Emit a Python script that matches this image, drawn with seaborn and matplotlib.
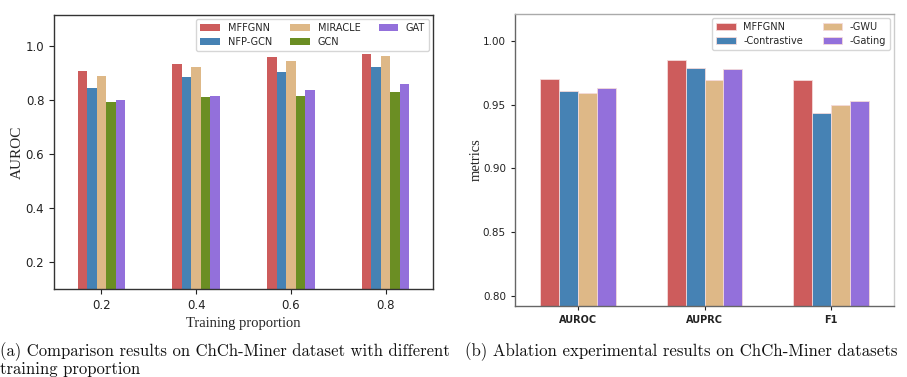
import matplotlib
matplotlib.use("Agg")
import matplotlib.pyplot as plt
import seaborn as sns
import pandas as pd

# ---- data (a) ----
proportions = ["0.2", "0.4", "0.6", "0.8"]
methods_a = ["MFFGNN", "NFP-GCN", "MIRACLE", "GCN", "GAT"]
mffgnn_a = [0.907, 0.933, 0.959, 0.970]
nfpgcn_a = [0.844, 0.885, 0.904, 0.922]
miracle_a = [0.889, 0.922, 0.944, 0.963]
gcn_a = [0.792, 0.811, 0.815, 0.829]
gat_a = [0.800, 0.815, 0.837, 0.859]

# ---- data (b) ----
metrics_b = ["AUROC", "AUPRC", "F1"]
variants_b = ["MFFGNN", "-Contrastive", "-GWU", "-Gating"]
mffgnn_b = [0.970, 0.9846, 0.9695]
contrastive_b = [0.961, 0.9786, 0.9436]
gwu_b = [0.959, 0.969, 0.9496]
gating_b = [0.963, 0.978, 0.9527]

colors_a = ["#CD5C5C", "#4682B4", "#DEB887", "#6B8E23", "#9370DB"]
colors_b = ["#CD5C5C", "#4682B4", "#DEB887", "#9370DB"]

rows = []
for m, vals in zip(methods_a, [mffgnn_a, nfpgcn_a, miracle_a, gcn_a, gat_a]):
    for p, v in zip(proportions, vals):
        rows.append({"prop": p, "method": m, "value": v})
df_a = pd.DataFrame(rows)

rows = []
for m, vals in zip(variants_b, [mffgnn_b, contrastive_b, gwu_b, gating_b]):
    for k, v in zip(metrics_b, vals):
        rows.append({"metric": k, "variant": m, "value": v})
df_b = pd.DataFrame(rows)

sns.set_theme(style="white")
plt.rcParams["font.family"] = ["DejaVu Sans"]

fig = plt.figure(figsize=(9.07, 3.77), dpi=100)
W, H = 907, 377
ax1 = fig.add_axes([54 / W, 1 - 289 / H, 379 / W, 274 / H])
ax2 = fig.add_axes([515 / W, 1 - 306 / H, 379 / W, 292 / H])

# ---- panel (a) ----
sns.barplot(data=df_a, x="prop", y="value", hue="method", order=proportions,
            hue_order=methods_a, palette=colors_a, width=0.5, ax=ax1,
            saturation=1, linewidth=0, errorbar=None)
ax1.set_ylim(0.1, 1.115)
ax1.set_yticks([0.2, 0.4, 0.6, 0.8, 1.0])
ax1.set_yticklabels(["0.2", "0.4", "0.6", "0.8", "1.0"])
ax1.tick_params(axis="both", labelsize=8.5, colors="#222222", length=3.5, width=0.8,
                left=True, bottom=True, direction="out")
ax1.set_xlabel("Training proportion", family="Liberation Serif", fontsize=10.5, labelpad=4)
ax1.set_ylabel("AUROC", family="Liberation Serif", fontsize=11, labelpad=1)
for s in ax1.spines.values():
    s.set_color("#333333")
    s.set_linewidth(1.0)
ax1.legend(ncol=3, loc="upper right", fontsize=7, frameon=True, fancybox=True,
           edgecolor="#cccccc", handlelength=2.0, columnspacing=1.9,
           borderaxespad=0.4, labelspacing=0.45)

# ---- panel (b) ----
sns.barplot(data=df_b, x="metric", y="value", hue="variant", order=metrics_b,
            hue_order=variants_b, palette=colors_b, width=0.6, ax=ax2,
            saturation=1, linewidth=0.6, edgecolor="#f4dada", errorbar=None)
ax2.set_ylim(0.792, 1.021)
ax2.set_yticks([0.80, 0.85, 0.90, 0.95, 1.00])
ax2.set_yticklabels(["0.80", "0.85", "0.90", "0.95", "1.00"])
ax2.tick_params(axis="both", labelsize=7.5, colors="#222222", length=3, width=0.8,
                left=True, bottom=True, direction="out")
for lab in ax2.get_xticklabels():
    lab.set_fontweight("bold")
    lab.set_fontsize(7)
ax2.set_xlabel("")
ax2.set_ylabel("metrics", family="Liberation Serif", fontsize=10.5, labelpad=0)
ax2.spines["left"].set_color("#666666")
ax2.spines["bottom"].set_color("#666666")
ax2.spines["top"].set_color("#aaaaaa")
ax2.spines["right"].set_color("#cccccc")
for s in ax2.spines.values():
    s.set_linewidth(1.0)
ax2.legend(ncol=2, loc="upper right", fontsize=7, frameon=True, fancybox=True,
           edgecolor="#cccccc", handlelength=2.0, columnspacing=2.0,
           borderaxespad=0.4, labelspacing=0.45)

# ---- captions ----
cap_font = dict(family="cmr10", color="#111111")
fig.text(0.0, 1 - 352 / H, "(a) Comparison results on ChCh-Miner dataset with different",
         ha="left", va="center", fontsize=12.0, **cap_font)
fig.text(0.0, 1 - 369 / H, "training proportion", ha="left", va="center",
         fontsize=12.0, **cap_font)
fig.text(465 / W, 1 - 352 / H, "(b) Ablation experimental results on ChCh-Miner datasets",
         ha="left", va="center", fontsize=12.1, **cap_font)

fig.savefig("out.png", dpi=100)
